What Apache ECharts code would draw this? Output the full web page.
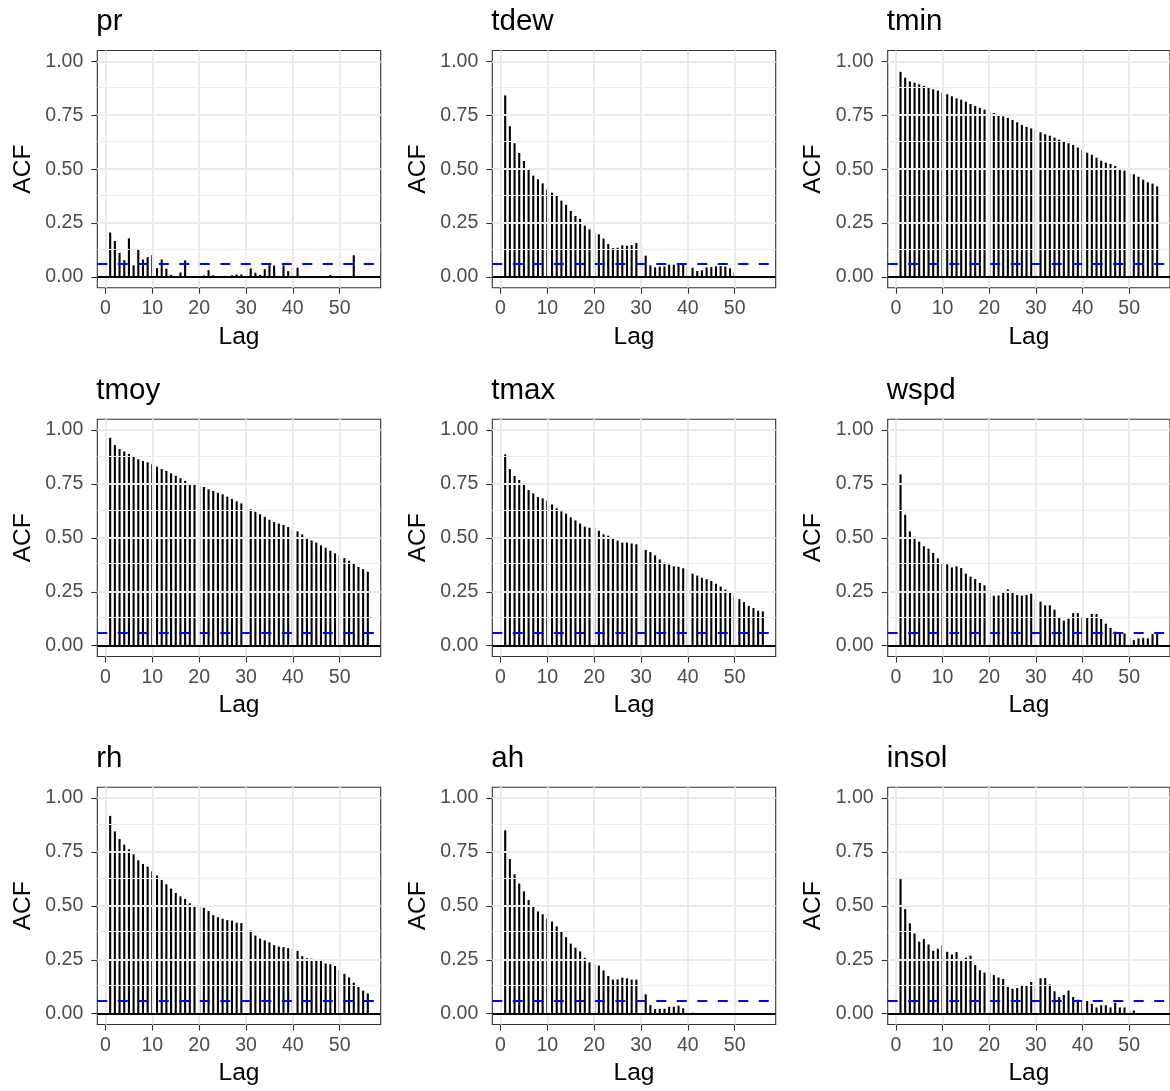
<!DOCTYPE html>
<html>
<head>
<meta charset="utf-8">
<script src="https://cdn.jsdelivr.net/npm/echarts@6/dist/echarts.min.js"></script>
<style>
html,body{margin:0;padding:0;background:#fff;}
#chart{width:1170px;height:1091px;}
</style>
</head>
<body>
<div id="chart"></div>
<script>
const lags = [1,2,3,4,5,6,7,8,9,10,11,12,13,14,15,16,17,18,19,20,21,22,23,24,25,26,27,28,29,30,31,32,33,34,35,36,37,38,39,40,41,42,43,44,45,46,47,48,49,50,51,52,53,54,55,56];
const ciLevel = 0.061;
const yTicks = [0, 0.25, 0.5, 0.75, 1];
const yMinor = [0.125, 0.375, 0.625, 0.875];
const xTicks = [0, 10, 20, 30, 40, 50];
const panelNames = ['pr','tdew','tmin','tmoy','tmax','wspd','rh','ah','insol'];

const pr = [0.206,0.167,0.112,0.078,0.179,0.054,0.129,0.081,0.092,0.101,
0.041,0.081,0.039,0.010,0,0.021,0.077,0,0,0,
0.007,0.032,0.008,0,0,0,0.008,0.011,0.012,0.055,
0.040,0.020,0.010,0.036,0.055,0.053,0,0.054,0.027,0.043,
0.043,0,0,0,0,0,0,0.009,0,0,
0,0,0.101,0,0,0];
const tdew = [0.842,0.699,0.620,0.575,0.538,0.499,0.470,0.453,0.434,0.406,
0.391,0.376,0.354,0.335,0.306,0.283,0.270,0.238,0.221,0.206,
0.198,0.178,0.153,0.134,0.136,0.147,0.145,0.148,0.158,0.148,
0.099,0.054,0.045,0.048,0.049,0.057,0.057,0.060,0.057,0.051,
0.043,0.028,0.031,0.045,0.046,0.049,0.051,0.048,0.040,0.022,
0,0,0,0,0,0];
const tmin = [0.951,0.924,0.907,0.901,0.893,0.886,0.878,0.870,0.864,0.855,
0.847,0.838,0.828,0.822,0.813,0.802,0.793,0.784,0.776,0.767,
0.760,0.754,0.745,0.737,0.728,0.717,0.705,0.696,0.689,0.680,
0.671,0.662,0.655,0.646,0.637,0.627,0.620,0.612,0.600,0.589,
0.576,0.567,0.553,0.539,0.530,0.524,0.515,0.504,0.493,0.484,
0.476,0.465,0.451,0.439,0.433,0.420];
const tmoy = [0.964,0.930,0.912,0.900,0.889,0.876,0.864,0.856,0.850,0.841,
0.830,0.819,0.810,0.799,0.788,0.776,0.764,0.753,0.747,0.742,
0.736,0.725,0.717,0.709,0.702,0.691,0.680,0.669,0.660,0.648,
0.632,0.621,0.609,0.597,0.584,0.573,0.566,0.560,0.550,0.541,
0.530,0.516,0.502,0.488,0.478,0.465,0.454,0.440,0.428,0.417,
0.406,0.394,0.380,0.365,0.355,0.343];
const tmax = [0.887,0.819,0.787,0.768,0.748,0.722,0.706,0.689,0.683,0.672,
0.655,0.637,0.623,0.612,0.595,0.581,0.566,0.552,0.547,0.547,
0.533,0.516,0.510,0.501,0.487,0.478,0.478,0.474,0.470,0.457,
0.444,0.434,0.419,0.400,0.385,0.376,0.368,0.366,0.359,0.355,
0.334,0.325,0.315,0.308,0.300,0.287,0.274,0.260,0.247,0.232,
0.216,0.202,0.185,0.175,0.162,0.159];
const wspd = [0.794,0.607,0.530,0.505,0.482,0.461,0.450,0.430,0.405,0.382,
0.377,0.363,0.368,0.360,0.334,0.320,0.309,0.291,0.280,0.258,
0.232,0.233,0.247,0.261,0.249,0.235,0.232,0.235,0.241,0.215,
0.204,0.187,0.187,0.167,0.133,0.116,0.125,0.151,0.151,0.134,
0.133,0.147,0.147,0.124,0.102,0.082,0.065,0.060,0.057,0.039,
0.026,0.034,0.036,0.034,0.054,0.056];
const rh = [0.917,0.845,0.810,0.784,0.762,0.739,0.711,0.694,0.682,0.660,
0.641,0.620,0.600,0.580,0.560,0.544,0.532,0.512,0.501,0.498,
0.491,0.476,0.457,0.447,0.440,0.434,0.431,0.422,0.420,0.405,
0.385,0.362,0.348,0.340,0.331,0.318,0.311,0.309,0.304,0.300,
0.291,0.267,0.257,0.255,0.250,0.246,0.233,0.229,0.221,0.202,
0.185,0.168,0.144,0.124,0.107,0.094];
const ah = [0.850,0.717,0.646,0.603,0.567,0.527,0.495,0.474,0.461,0.442,
0.427,0.405,0.380,0.355,0.325,0.306,0.289,0.260,0.238,0.230,
0.223,0.201,0.175,0.158,0.159,0.167,0.164,0.158,0.158,0.139,
0.090,0.040,0.022,0.023,0.023,0.032,0.032,0.037,0.025,0.014,
0.005,0,0,0,0,0,0,0,0,0,
0,0,0,0,0,0];
const insol = [0.624,0.485,0.419,0.372,0.334,0.346,0.321,0.292,0.301,0.317,
0.287,0.274,0.286,0.249,0.260,0.269,0.226,0.202,0.190,0.189,
0.179,0.168,0.161,0.124,0.116,0.119,0.131,0.131,0.147,0.131,
0.164,0.165,0.136,0.104,0.077,0.087,0.107,0.077,0.065,0.062,
0.059,0.046,0.029,0.039,0.039,0.029,0.051,0.029,0.029,0.015,
0.015,0,0,0,0,0];

const panelValues = [pr, tdew, tmin, tmoy, tmax, wspd, rh, ah, insol];

const FONT = "'Liberation Sans', Arial, sans-serif";
const colLeft = [97.3, 492.3, 887.7];
const rowTop = [50.5, 419.2, 787.2];
const gW = 283.4, gH = 237.3;

const grids = [], xAxes = [], yAxes = [], series = [], titles = [];
panelNames.forEach((name, i) => {
  const r = Math.floor(i / 3), c = i % 3;
  grids.push({left: colLeft[c], top: rowTop[r], width: gW, height: gH,
    show: true, backgroundColor: '#ffffff', borderColor: '#333333', borderWidth: 1.1, containLabel: false});
  titles.push({text: name, left: colLeft[c] - 1, top: rowTop[r] - 43.5, padding: 0,
    textStyle: {fontFamily: FONT, fontSize: 29.5, fontWeight: 'normal', color: '#000'}});
  xAxes.push({type: 'value', gridIndex: i, min: -1.75, max: 58.75,
    name: 'Lag', nameLocation: 'middle', nameGap: 36.5,
    nameTextStyle: {fontFamily: FONT, fontSize: 24.5, color: '#000'},
    axisLine: {show: false, onZero: false},
    axisTick: {show: true, customValues: xTicks, length: 6, lineStyle: {color: '#333333', width: 1.1}},
    axisLabel: {show: true, customValues: xTicks, margin: 11, fontFamily: FONT, fontSize: 19.5, color: '#4D4D4D',
      formatter: v => String(Math.round(v))},
    splitLine: {show: false}, minorSplitLine: {show: false}});
  yAxes.push({type: 'value', gridIndex: i, min: -0.05, max: 1.05,
    name: 'ACF', nameLocation: 'middle', nameGap: 62, nameRotate: 90,
    nameTextStyle: {fontFamily: FONT, fontSize: 24.5, color: '#000'},
    axisLine: {show: false, onZero: false},
    axisTick: {show: true, customValues: yTicks, length: 6, lineStyle: {color: '#333333', width: 1.1}},
    axisLabel: {show: true, customValues: yTicks, margin: 14, fontFamily: FONT, fontSize: 19.5, color: '#4D4D4D',
      formatter: v => Number(v).toFixed(2)},
    splitLine: {show: false}, minorSplitLine: {show: false}});
  const gl = [];
  yMinor.forEach(v => gl.push({yAxis: v, lineStyle: {color: '#EBEBEB', width: 1, type: 'solid'}}));
  yTicks.forEach(v => gl.push({yAxis: v, lineStyle: {color: '#EBEBEB', width: 2, type: 'solid'}}));
  xTicks.forEach(v => gl.push({xAxis: v, lineStyle: {color: '#EBEBEB', width: 2, type: 'solid'}}));
  series.push({type: 'line', xAxisIndex: i, yAxisIndex: i, z: 1, silent: true,
    data: [[0, 0]], showSymbol: false, symbol: 'none', lineStyle: {width: 0, opacity: 0},
    markLine: {silent: true, symbol: 'none', label: {show: false}, animation: false, data: gl}});
  const vals = panelValues[i];
  series.push({type: 'bar', xAxisIndex: i, yAxisIndex: i, z: 3, barWidth: 2.1, silent: true,
    itemStyle: {color: '#000000'},
    data: lags.map((l, k) => [l, vals[k]]),
    markLine: {silent: true, symbol: 'none', label: {show: false}, animation: false,
      data: [
        {yAxis: 0, lineStyle: {color: '#000000', width: 2, type: 'solid'}},
        {yAxis: ciLevel, lineStyle: {color: '#0000FF', width: 2.1, type: [10, 10.5]}}
      ]}});
});

const chart = echarts.init(document.getElementById('chart'), null, {renderer: 'canvas'});
chart.setOption({
  animation: false,
  backgroundColor: '#ffffff',
  textStyle: {fontFamily: FONT},
  title: titles, grid: grids, xAxis: xAxes, yAxis: yAxes, series: series
});
</script>
</body>
</html>
